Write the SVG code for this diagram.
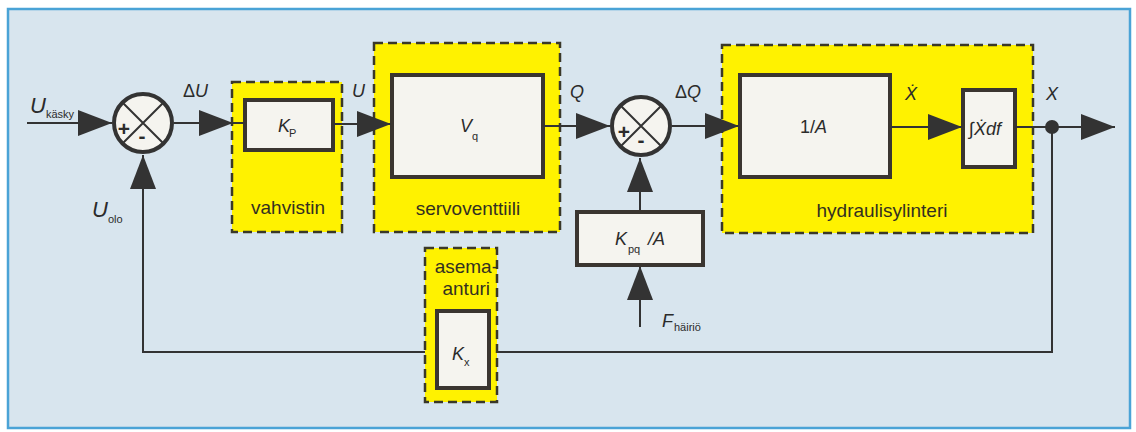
<svg xmlns="http://www.w3.org/2000/svg" width="1136" height="432" viewBox="0 0 1136 432">
<style>
text{font-family:"Liberation Sans",Arial,sans-serif;fill:#2b2b2b}
.lbl{font-size:18px;font-style:italic}
.big{font-size:22px;font-style:italic}
.sub{font-size:11px}
.cap{font-size:19px;fill:#333020}
.grp{fill:#fff200;stroke:#3a3828;stroke-width:2.5;stroke-dasharray:9 5}
.blk{fill:#f5f4ef;stroke:#3a3530;stroke-width:4}
.sum{fill:#f5f4ef;stroke:#333;stroke-width:4}
.ln{fill:none;stroke:#333;stroke-width:2}
.sign{font-size:21px;font-weight:bold;font-style:normal}
</style>
<defs>
<marker id="ah" viewBox="0 0 34 26" refX="34" refY="13" markerWidth="34" markerHeight="26" markerUnits="userSpaceOnUse" orient="auto">
<path d="M0,0 L34,13 L0,26 z" fill="#333"/>
</marker>
</defs>
<rect x="0" y="0" width="1136" height="432" fill="#ffffff"/>
<rect x="8" y="9" width="1122" height="419" fill="#d8e5ee" stroke="#4aa3d6" stroke-width="2.5"/>

<g id="vahvistin">
<rect class="grp" x="232" y="82" width="110" height="150"/>
<rect class="blk" x="245" y="100" width="88" height="50"/>
<text class="lbl" x="278" y="132">K</text>
<text class="sub" x="289" y="137">P</text>
<text class="cap" x="288" y="214" text-anchor="middle">vahvistin</text>
</g>

<g id="servoventtiili">
<rect class="grp" x="374" y="43" width="186" height="189"/>
<rect class="blk" x="392" y="75" width="151" height="102"/>
<text class="lbl" x="460" y="132">V</text>
<text class="sub" x="472" y="140">q</text>
<text class="cap" x="468" y="215" text-anchor="middle">servoventtiili</text>
</g>

<g id="hydraulisylinteri">
<rect class="grp" x="722" y="45" width="311" height="188"/>
<rect class="blk" x="740" y="75" width="150" height="102"/>
<text class="lbl" x="800" y="133"><tspan font-style="normal">1/</tspan>A</text>
<rect class="blk" x="963" y="90" width="52" height="77"/>
<text class="lbl" x="969" y="135" font-size="17">∫Ẋdf</text>
<text class="cap" x="882" y="217" text-anchor="middle">hydraulisylinteri</text>
</g>

<g id="connectors">
<path class="ln" d="M27,123 H112" marker-end="url(#ah)"/>
<path class="ln" d="M174,123 H233"  marker-end="url(#ah)"/>
<path class="ln" d="M233,123 H245"/>
<path class="ln" d="M333,124 H391" marker-end="url(#ah)"/>
<path class="ln" d="M543,126 H610" marker-end="url(#ah)"/>
<path class="ln" d="M672,126 H739" marker-end="url(#ah)"/>
<path class="ln" d="M890,127 H962" marker-end="url(#ah)"/>
<path class="ln" d="M1015,127 H1115" marker-end="url(#ah)"/>
<path class="ln" d="M1052,127 V352 H143 V155" marker-end="url(#ah)"/>
<path class="ln" d="M640,212 V158" marker-end="url(#ah)"/>
<path class="ln" d="M640,327 V266" marker-end="url(#ah)"/>
<circle cx="1052" cy="127" r="7" fill="#333"/>
</g>

<g id="sum1">
<circle class="sum" cx="143" cy="123" r="29"/>
<path class="ln" d="M122.5,102.5 L163.5,143.5 M163.5,102.5 L122.5,143.5" stroke-width="2.5"/>
<text class="sign" x="124" y="136" text-anchor="middle">+</text>
<text class="sign" x="142" y="143" text-anchor="middle">-</text>
</g>

<g id="sum2">
<circle class="sum" cx="641" cy="126" r="29"/>
<path class="ln" d="M620.5,105.5 L661.5,146.5 M661.5,105.5 L620.5,146.5" stroke-width="2.5"/>
<text class="sign" x="624" y="139" text-anchor="middle">+</text>
<text class="sign" x="641" y="147" text-anchor="middle">-</text>
</g>

<g id="kpq">
<rect class="blk" x="577" y="212" width="126" height="53"/>
<text class="lbl" x="615" y="245">K</text>
<text class="sub" x="628" y="253">pq</text>
<text class="lbl" x="648" y="245">/A</text>
</g>

<g id="asema-anturi">
<rect class="grp" x="425" y="248" width="72" height="154"/>
<text class="cap" x="498" y="273" text-anchor="end">asema-</text>
<text class="cap" x="490" y="295" text-anchor="end">anturi</text>
<rect class="blk" x="437" y="311" width="52" height="77"/>
<text class="lbl" x="452" y="360">K</text>
<text class="sub" x="464" y="366" font-size="12">x</text>
</g>

<g id="labels">
<text class="big" x="30" y="113">U</text>
<text class="sub" x="46" y="118">käsky</text>
<text class="big" x="92" y="217">U</text>
<text class="sub" x="108" y="223">olo</text>
<text class="lbl" x="183" y="97"><tspan font-style="normal">Δ</tspan>U</text>
<text class="lbl" x="352" y="97">U</text>
<text class="lbl" x="570" y="98">Q</text>
<text class="lbl" x="675" y="98"><tspan font-style="normal">Δ</tspan>Q</text>
<text class="lbl" x="905" y="100">Ẋ</text>
<text class="lbl" x="1046" y="100">X</text>
<text class="lbl" x="662" y="327">F</text>
<text class="sub" x="674" y="331" font-size="10">häiriö</text>
</g>
</svg>
